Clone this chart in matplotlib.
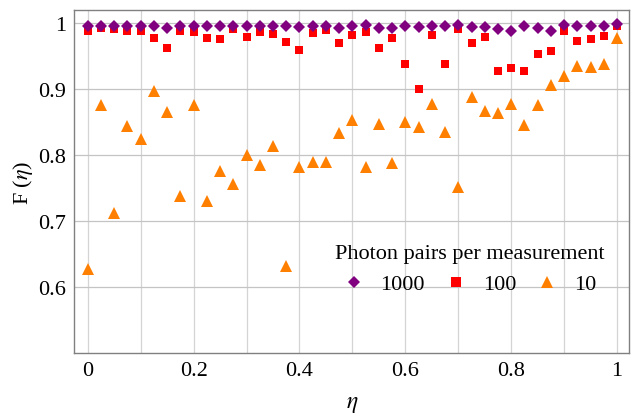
import numpy as np
import matplotlib
matplotlib.use("Agg")
import matplotlib.pyplot as plt

eta = [i * 0.025 for i in range(41)]

f_1000 = [0.9964, 0.9964, 0.9964, 0.9964, 0.9955, 0.9964, 0.9930, 0.9955, 0.9955, 0.9964,
          0.9955, 0.9964, 0.9964, 0.9964, 0.9964, 0.9964, 0.9940, 0.9964, 0.9955, 0.9932,
          0.9964, 0.9974, 0.9930, 0.9930, 0.9964, 0.9946, 0.9964, 0.9964, 0.9974, 0.9950,
          0.9940, 0.9914, 0.9888, 0.9964, 0.9924, 0.9878, 0.9974, 0.9964, 0.9964, 0.9964,
          0.9985]

f_100 = [0.9878, 0.9929, 0.9914, 0.9888, 0.9888, 0.9777, 0.9626, 0.9888, 0.9868, 0.9777,
         0.9762, 0.9914, 0.9797, 0.9873, 0.9843, 0.9722, 0.9600, 0.9858, 0.9904, 0.9697,
         0.9828, 0.9863, 0.9631, 0.9782, 0.9388, 0.9010, 0.9828, 0.9388, 0.9909, 0.9707,
         0.9797, 0.9282, 0.9323, 0.9282, 0.9540, 0.9585, 0.9883, 0.9737, 0.9762, 0.9813,
         0.9964]

f_10 = [0.6277, 0.8760, 0.7126, 0.8450, 0.8247, 0.8980, 0.8660, 0.7379, 0.8760, 0.7298,
        0.7757, 0.7570, 0.8010, 0.7858, 0.8146, 0.6313, 0.7828, 0.7904, 0.7904, 0.8338,
        0.8540, 0.7818, 0.8474, 0.7878, 0.8510, 0.8424, 0.8777, 0.8358, 0.7525, 0.8889,
        0.8676, 0.8640, 0.8777, 0.8459, 0.8762, 0.9065, 0.9207, 0.9348, 0.9338, 0.9383,
        0.9777]

series_labels = ["1000", "100", "10"]
x_ticks = [0, 0.2, 0.4, 0.6, 0.8, 1.0]
x_tick_labels = ["0", "0.2", "0.4", "0.6", "0.8", "1"]
y_ticks = [0.6, 0.7, 0.8, 0.9, 1.0]
y_tick_labels = ["0.6", "0.7", "0.8", "0.9", "1"]

plt.rcParams["font.family"] = ["Liberation Serif", "DejaVu Serif"]
plt.rcParams["mathtext.fontset"] = "stix"

fig = plt.figure(figsize=(6.31, 4.14), dpi=100)
ax = fig.add_axes([0.118, 0.145, 0.879, 0.828])

ax.set_xlim(-0.025, 1.0227)
ax.set_ylim(0.5, 1.02)

ax.set_xticks(np.arange(0, 1.01, 0.1), minor=True)
ax.grid(True, which="both", axis="x", color="#d4d4d4", lw=0.9)
ax.grid(True, which="major", axis="y", color="#c4c4c4", lw=0.9)
ax.set_axisbelow(True)

ax.plot(eta, f_10, linestyle="none", marker="^", ms=8.5, color="#ff8000",
        markeredgewidth=0, label=series_labels[2], zorder=3)
ax.plot(eta, f_100, linestyle="none", marker="s", ms=6.3, color="#ff0000",
        markeredgewidth=0, label=series_labels[1], zorder=4)
ax.plot(eta, f_1000, linestyle="none", marker="D", ms=6.2, color="#800080",
        markeredgewidth=0, label=series_labels[0], zorder=5)

ax.set_xticks(x_ticks)
ax.set_xticklabels(x_tick_labels)
ax.set_yticks(y_ticks)
ax.set_yticklabels(y_tick_labels)
ax.tick_params(axis="both", which="both", length=0, labelsize=16, colors="black", pad=6)

for s in ax.spines.values():
    s.set_color("#808080")
    s.set_linewidth(1.0)

ax.set_xlabel(r"$\eta$", fontsize=17, labelpad=9)
ax.set_ylabel(r"F ($\eta$)", fontsize=16, labelpad=2)

handles, labels = ax.get_legend_handles_labels()
order = [2, 1, 0]
leg = ax.legend([handles[i] for i in order], [labels[i] for i in order],
                title="Photon pairs per measurement", ncol=3, frameon=False,
                loc="lower center", bbox_to_anchor=(0.712, 0.145), fontsize=16,
                title_fontsize=16, handlelength=1.0, handletextpad=0.7,
                columnspacing=0.9, markerscale=1.05, borderaxespad=0.0)

fig.savefig("out.png", dpi=100)
